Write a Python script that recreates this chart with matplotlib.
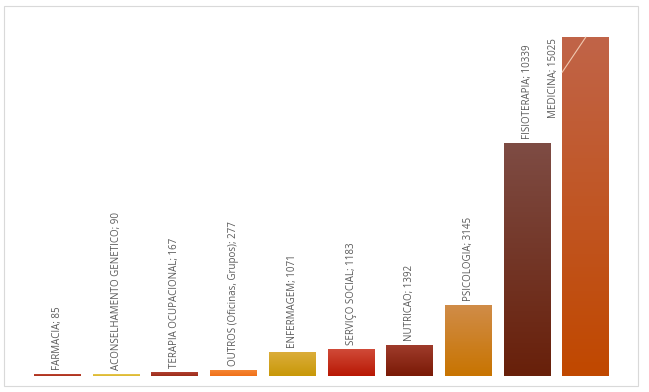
import numpy as np
import matplotlib.pyplot as plt
from matplotlib.colors import LinearSegmentedColormap
from matplotlib.patches import Rectangle

categorias = ['FARMACIA', 'ACONSELHAMENTO GENETICO', 'TERAPIA OCUPACIONAL',
              'OUTROS (Oficinas, Grupos)', 'ENFERMAGEM', 'SERVIÇO SOCIAL',
              'NUTRICAO', 'PSICOLOGIA', 'FISIOTERAPIA', 'MEDICINA']
valores = [85, 90, 167, 277, 1071, 1183, 1392, 3145, 10339, 15025]

# gradient colours: (top, bottom)
cores = [('#bf4530', '#a8301c'), ('#ecd060', '#dcb830'), ('#b04030', '#9c2c18'),
         ('#f68a3a', '#f07018'), ('#dcae3c', '#c89808'), ('#d04a38', '#b81804'),
         ('#a03c2c', '#7a1a06'), ('#d08c48', '#c87400'), ('#7e4c44', '#68200a'),
         ('#c06448', '#c04800')]

W, H = 649, 392
fig = plt.figure(figsize=(W / 100, H / 100), dpi=100)
ax = fig.add_axes([28.2 / W, 16 / H, 587 / W, 361 / H])

x = np.arange(len(valores))
bars = ax.bar(x, valores, width=0.8, color='none', edgecolor='none')
grad = np.linspace(0, 1, 100).reshape(-1, 1)
for b, (top, bot) in zip(bars, cores):
    cmap = LinearSegmentedColormap.from_list('g', [bot, top])
    x0 = b.get_x()
    im = ax.imshow(grad, cmap=cmap, origin='lower', aspect='auto',
                   extent=(x0, x0 + b.get_width(), 0, b.get_height()), zorder=2)
    im.set_clip_path(b)

ax.set_xlim(-0.5, 9.5)
ax.set_ylim(0, 16000)
ax.axis('off')

txt = dict(rotation=90, ha='center', va='bottom', fontsize=7,
           color='#595959', family='Open Sans')
for i, (c, v) in enumerate(zip(categorias, valores)):
    label = f'{c}; {v}'
    if i == len(valores) - 1:
        ax.annotate(label, xy=(i, v), xytext=(-32, -81), textcoords='offset pixels',
                    arrowprops=dict(arrowstyle='-', color='#f0c8b0', lw=0.8,
                                    relpos=(1, 0.52), shrinkA=0, shrinkB=0),
                    **txt)
    else:
        ax.annotate(label, xy=(i, v), xytext=(0, 4), textcoords='offset pixels', **txt)

fig.patches.append(Rectangle((4 / W, 1 - 386 / H), 634 / W, 380 / H,
                             transform=fig.transFigure, fill=False,
                             edgecolor='#d9d9d9', lw=0.8))

fig.savefig('out.png', dpi=100)
